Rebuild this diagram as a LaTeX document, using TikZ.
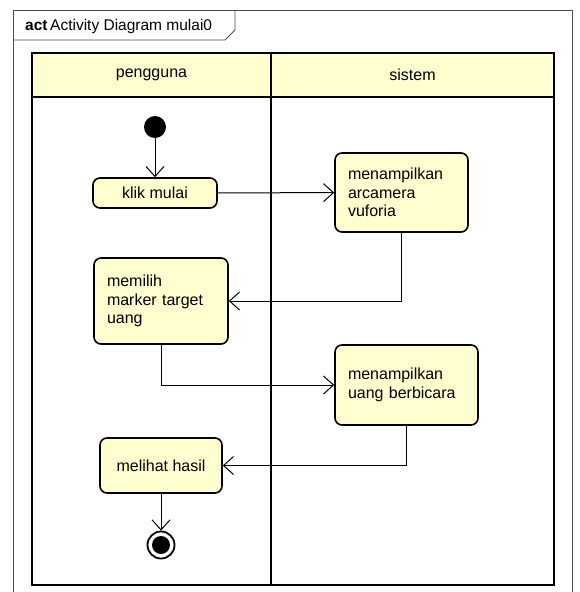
\documentclass[tikz,border=0pt]{standalone}
\usepackage{fontspec}
\setmainfont{Liberation Sans}
\usetikzlibrary{arrows.meta}
\definecolor{actfill}{RGB}{254,254,206}

\begin{document}
\begin{tikzpicture}[x=1pt,y=-1pt,
    lanehead/.style={draw,line width=1.8pt,fill=actfill,inner sep=0pt,font=\fontsize{16}{18}\selectfont},
    actbox/.style={draw,line width=1.6pt,rounded corners=7pt,fill=actfill,inner xsep=13pt,inner ysep=0pt,
      align=left,font=\fontsize{16}{18.5}\selectfont},
    flow/.style={line width=1pt,-{Straight Barb[length=10pt,width=18pt,line width=1pt]}}]
\useasboundingbox (0,0) rectangle (579,592);
% frame
\draw[line width=0.9pt,black!70] (13,592) -- (13,10) -- (572,10) -- (572,592);
\draw[line width=0.9pt,black!70] (13,40) -- (225,40) -- (235,30) -- (235,10);
\node[anchor=base west,inner sep=0pt,font=\fontsize{15.5}{17}\selectfont] (title) at (25,30.5)
  {\textbf{act}\,Activity Diagram mulai0};
% lanes
\draw[line width=1.8pt] (32,96) rectangle (271,585);
\draw[line width=1.8pt] (271,96) rectangle (554,585);
\node[lanehead,minimum width=239pt,minimum height=44pt] (lane1) at (151.5,75) {pengguna};
\node[lanehead,minimum width=283pt,minimum height=44pt] (lane2) at (412.5,75) {sistem};
% nodes
\node[circle,fill,inner sep=0pt,minimum size=22pt] (start) at (155,127) {};
\node[actbox,align=center,minimum width=124pt,minimum height=30pt,inner xsep=0pt] (klik) at (155,193) {klik mulai};
\node[actbox,text width=107pt,minimum height=79pt] (cam) at (401.5,192.5) {menampilkan\\arcamera\\vuforia};
\node[actbox,text width=108pt,minimum height=86pt] (marker) at (161,301) {memilih\\marker target\\uang};
\node[actbox,text width=117pt,minimum height=80pt] (uang) at (406.5,385) {menampilkan\\uang berbicara};
\node[actbox,align=center,minimum width=122pt,minimum height=55pt,inner xsep=0pt] (hasil) at (161,465.5) {melihat hasil};
\node[circle,draw,line width=1.8pt,fill=white,inner sep=0pt,minimum size=27pt] (final) at (161,545) {};
\fill (final) circle (9);
% connectors
\draw[flow] (start) -- (klik);
\draw[flow] (klik) -- (cam);
\draw[flow] (cam) |- (marker);
\draw[flow] (marker) |- (uang);
\draw[flow] (uang) |- (hasil);
\draw[flow] (hasil) -- (final);
\end{tikzpicture}
\end{document}
